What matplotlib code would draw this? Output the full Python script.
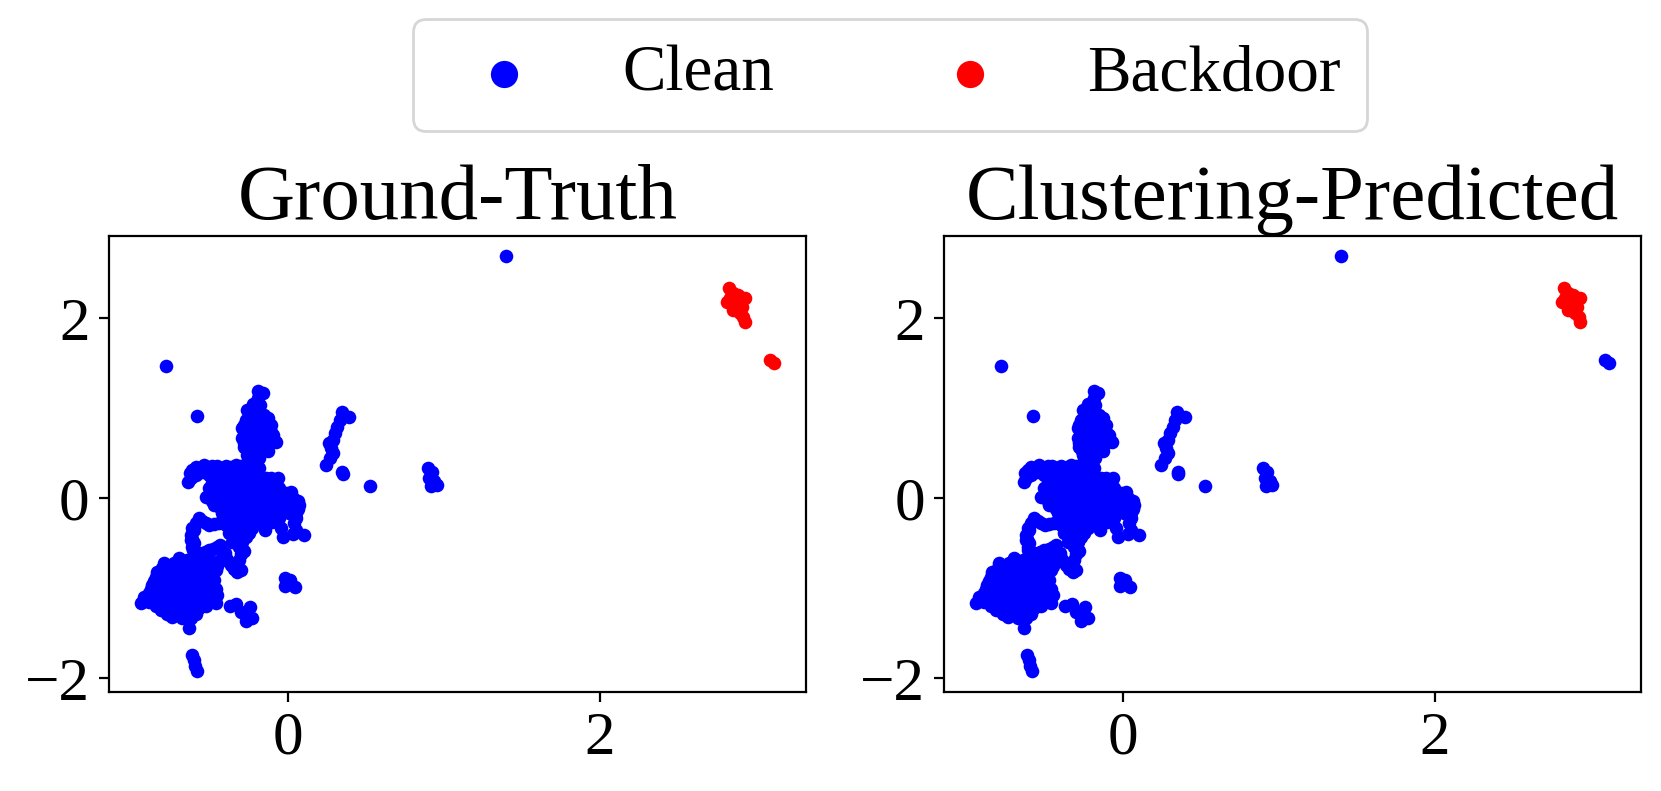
import numpy as np
import matplotlib.pyplot as plt

plt.rcParams['font.family'] = ['Liberation Serif', 'DejaVu Serif']

# isolated clean points
lone_x = [-0.781, -0.578, 1.401, 0.528, 0.351, 0.355, -0.145]
lone_y = [1.470, 0.915, 2.689, 0.141, 0.296, 0.275, -0.348]

# thin streak right of the main cloud
streak_x = [0.349, 0.396, 0.336, 0.319, 0.302, 0.289, 0.263, 0.278, 0.289, 0.272, 0.246]
streak_y = [0.956, 0.904, 0.870, 0.796, 0.722, 0.648, 0.611, 0.556, 0.507, 0.444, 0.370]

# small groups
grp_c_x = [0.899, 0.926, 0.909, 0.941, 0.956, 0.920]
grp_c_y = [0.341, 0.296, 0.222, 0.193, 0.148, 0.141]
grp_d_x = [-0.017, 0.015, 0.045, -0.015]
grp_d_y = [-0.881, -0.911, -0.985, -0.970]
grp_e_x = [-0.370, -0.327, -0.300, -0.267, -0.242, -0.225, -0.267]
grp_e_y = [-1.193, -1.178, -1.259, -1.296, -1.207, -1.326, -1.363]
grp_f_x = [-0.614, -0.601, -0.593, -0.582]
grp_f_y = [-1.741, -1.800, -1.859, -1.919]

# upper arm of the main cloud
arm_x = [-0.186, -0.160, -0.186, -0.178, -0.257, -0.214, -0.150, -0.128,
         -0.267, -0.203, -0.139, -0.107, -0.289, -0.235, -0.171, -0.107,
         -0.289, -0.225, -0.160, -0.096, -0.071, -0.278, -0.214, -0.150,
         -0.128, -0.257, -0.193, -0.257, -0.246,
         -0.200, -0.240, -0.150, -0.270, -0.200, -0.130, -0.250, -0.180,
         -0.220, -0.240, -0.170, -0.280, -0.120, -0.260, -0.200, -0.090,
         -0.280, -0.220, -0.170, -0.110, -0.260, -0.200, -0.230, -0.260, -0.210]
arm_y = [1.193, 1.167, 1.111, 1.037, 0.981, 0.963, 0.926, 0.889,
         0.870, 0.852, 0.833, 0.815, 0.778, 0.759, 0.759, 0.741,
         0.667, 0.667, 0.667, 0.667, 0.630, 0.574, 0.574, 0.574,
         0.526, 0.481, 0.519, 0.389, 0.315,
         0.920, 0.810, 0.700, 0.720, 0.710, 0.610, 0.620, 0.450,
         1.050, 0.900, 0.880, 0.820, 0.780, 0.720, 0.760, 0.700,
         0.620, 0.620, 0.620, 0.620, 0.530, 0.550, 0.440, 0.350, 0.380]

# left bar of the main cloud
bar_x = [-0.610, -0.560, -0.510, -0.455, -0.360, -0.620, -0.550, -0.460, -0.400, -0.340, -0.300]
bar_y = [0.320, 0.330, 0.340, 0.360, 0.350, 0.230, 0.290, 0.300, 0.300, 0.300, 0.360]

# central part of the cloud
core_x = [-0.635, -0.627, -0.588, -0.535, -0.481, -0.428, -0.396, -0.332, -0.588, -0.503,
          -0.439, -0.353, -0.267, -0.182, -0.107, -0.182,
          -0.503, -0.428, -0.353, -0.267, -0.182, -0.096, -0.053,
          -0.524, -0.449, -0.374, -0.289, -0.203, -0.118, -0.032, 0.021,
          -0.471, -0.396, -0.310, -0.225, -0.139, -0.053, 0.032, 0.075,
          -0.417, -0.342, -0.267, -0.182, -0.118, -0.043, 0.053,
          -0.385, -0.310, -0.235, -0.139, -0.053, 0.043,
          -0.353, -0.289, -0.225, -0.043, 0.053,
          -0.332, -0.267, -0.032, 0.032, 0.107,
          -0.310, -0.278]
core_y = [0.185, 0.278, 0.352, 0.370, 0.363, 0.341, 0.363, 0.370, 0.259, 0.259,
          0.222, 0.222, 0.222, 0.222, 0.222, 0.341,
          0.111, 0.111, 0.111, 0.111, 0.111, 0.111, 0.111,
          0.019, 0.019, 0.019, 0.019, 0.019, 0.019, 0.056, 0.074,
          -0.074, -0.074, -0.074, -0.074, -0.074, -0.074, 0.000, -0.074,
          -0.167, -0.167, -0.167, -0.167, -0.185, -0.148, -0.167,
          -0.259, -0.259, -0.259, -0.241, -0.222, -0.278,
          -0.352, -0.352, -0.333, -0.333, -0.352,
          -0.444, -0.426, -0.426, -0.400, -0.407,
          -0.537, -0.585]

# in-between rows of the central part
core2_x = [-0.481, -0.396, -0.310, -0.225, -0.139, -0.085,
           -0.481, -0.396, -0.310, -0.225, -0.139, -0.075, -0.010,
           -0.481, -0.417, -0.353, -0.267, -0.182, -0.096, -0.010, 0.064,
           -0.428, -0.353, -0.267, -0.182, -0.096, 0.000, 0.064,
           -0.385, -0.310, -0.225, -0.150, -0.075, 0.053,
           -0.396, -0.310, -0.246,
           -0.374, -0.300, -0.246,
           -0.353, -0.289]
core2_y = [0.167, 0.167, 0.167, 0.167, 0.167, 0.167,
           0.065, 0.065, 0.065, 0.065, 0.065, 0.065, 0.065,
           -0.028, -0.028, -0.028, -0.028, -0.028, -0.028, -0.028, -0.028,
           -0.120, -0.120, -0.120, -0.120, -0.120, -0.120, -0.120,
           -0.213, -0.213, -0.213, -0.213, -0.213, -0.213,
           -0.300, -0.300, -0.300,
           -0.390, -0.390, -0.390,
           -0.490, -0.490]

# extra fill inside the central part
core3_x = [-0.481, -0.396, -0.310, -0.225, -0.139, -0.064,
           -0.460, -0.390, -0.310, -0.225, -0.139,
           -0.490, -0.410, -0.330, -0.246, -0.160, -0.075,
           -0.430, -0.350, -0.267, -0.182, -0.096, -0.010,
           -0.380, -0.300, -0.225, -0.150, -0.080, 0.010,
           -0.350, -0.270, -0.190, -0.100,
           -0.320, -0.260]
core3_y = [0.222, 0.222, 0.222, 0.222, 0.222, 0.222,
           0.111, 0.111, 0.111, 0.111, 0.111,
           0.019, 0.019, 0.019, 0.019, 0.019, 0.019,
           -0.074, -0.074, -0.074, -0.074, -0.074, -0.074,
           -0.167, -0.167, -0.167, -0.167, -0.167, -0.167,
           -0.259, -0.259, -0.259, -0.259,
           -0.352, -0.352]

# links between the center and the lower-left blob
link_x = [-0.567, -0.524, -0.471, -0.599, -0.620, -0.610, -0.567, -0.503, -0.449,
          -0.428, -0.396, -0.364, -0.321, -0.289, -0.310,
          -0.588, -0.620, -0.599, -0.588, -0.535, -0.500, -0.450, -0.400,
          -0.545, -0.610, -0.615, -0.605, -0.580, -0.530, -0.475, -0.430,
          -0.410, -0.380, -0.345, -0.300, -0.300, -0.500, -0.440,
          -0.500, -0.460, -0.440, -0.530]
link_y = [-0.222, -0.278, -0.289, -0.352, -0.463, -0.537, -0.611, -0.574, -0.537,
          -0.574, -0.667, -0.741, -0.815, -0.574, -0.685,
          -0.278, -0.407, -0.500, -0.600, -0.630, -0.680, -0.750, -0.610,
          -0.250, -0.330, -0.450, -0.570, -0.630, -0.600, -0.560, -0.520,
          -0.630, -0.700, -0.780, -0.800, -0.620, -0.300, -0.270,
          -0.750, -0.800, -0.700, -0.700]

# lower-left blob
blob_x = [-0.695, -0.642,
          -0.802, -0.738, -0.674, -0.599, -0.535,
          -0.845, -0.781, -0.717, -0.653, -0.588, -0.524, -0.471,
          -0.867, -0.802, -0.738, -0.674, -0.610, -0.546, -0.481,
          -0.888, -0.824, -0.760, -0.695, -0.631, -0.567, -0.503, -0.449,
          -0.941, -0.888, -0.813, -0.749, -0.685, -0.620, -0.556, -0.460,
          -0.813, -0.749, -0.685, -0.620, -0.567,
          -0.738, -0.674, -0.620, -0.631]
blob_y = [-0.667, -0.685,
          -0.778, -0.778, -0.778, -0.778, -0.796,
          -0.870, -0.870, -0.870, -0.870, -0.870, -0.870, -0.907,
          -0.963, -0.963, -0.963, -0.963, -0.963, -0.963, -0.981,
          -1.056, -1.056, -1.056, -1.056, -1.056, -1.056, -1.056, -1.074,
          -1.167, -1.148, -1.148, -1.148, -1.148, -1.148, -1.148, -1.167,
          -1.241, -1.241, -1.252, -1.241, -1.222,
          -1.315, -1.333, -1.333, -1.444]

# in-between rows of the lower-left blob
blob2_x = [-0.792, -0.727, -0.663, -0.599,
           -0.835, -0.770, -0.706, -0.642, -0.578, -0.513,
           -0.856, -0.792, -0.727, -0.663, -0.599, -0.535, -0.492,
           -0.877, -0.813, -0.749, -0.685, -0.620, -0.556, -0.492, -0.460,
           -0.920, -0.856, -0.792, -0.727, -0.663, -0.599, -0.535, -0.481,
           -0.845, -0.781, -0.717, -0.653, -0.588, -0.524,
           -0.770, -0.706, -0.642, -0.588]
blob2_y = [-0.722, -0.722, -0.722, -0.722,
           -0.824, -0.824, -0.824, -0.824, -0.824, -0.824,
           -0.917, -0.917, -0.917, -0.917, -0.917, -0.917, -0.917,
           -1.010, -1.010, -1.010, -1.010, -1.010, -1.010, -1.010, -1.010,
           -1.100, -1.100, -1.100, -1.100, -1.100, -1.100, -1.100, -1.100,
           -1.195, -1.195, -1.195, -1.195, -1.195, -1.195,
           -1.287, -1.287, -1.287, -1.287]

# backdoor cluster (both panels) and the far pair (backdoor truth, predicted clean)
bd_x = [2.825, 2.856, 2.888, 2.931, 2.835, 2.814, 2.846, 2.878, 2.910, 2.856, 2.899, 2.921, 2.931]
bd_y = [2.341, 2.278, 2.259, 2.230, 2.222, 2.185, 2.167, 2.148, 2.130, 2.093, 2.056, 2.019, 1.956]
pair_x = [3.092, 3.118]
pair_y = [1.537, 1.500]

clean_x = np.concatenate([lone_x, streak_x, grp_c_x, grp_d_x, grp_e_x, grp_f_x, arm_x,
                          bar_x, core_x, core2_x, core3_x, link_x, blob_x, blob2_x])
clean_y = np.concatenate([lone_y, streak_y, grp_c_y, grp_d_y, grp_e_y, grp_f_y, arm_y,
                          bar_y, core_y, core2_y, core3_y, link_y, blob_y, blob2_y])

fig = plt.figure(figsize=(8.305, 3.955), dpi=200)
ax1 = fig.add_axes([0.0656, 0.1255, 0.4196, 0.5765])
ax2 = fig.add_axes([0.5685, 0.1255, 0.4194, 0.5765])

dot = 24

# ground truth
ax1.scatter(clean_x, clean_y, c='blue', s=dot, linewidths=0, label='Clean')
ax1.scatter(np.r_[bd_x, pair_x], np.r_[bd_y, pair_y], c='red', s=dot, linewidths=0,
            label='Backdoor')
ax1.set_title('Ground-Truth', fontsize=28.4)

# clustering prediction
ax2.scatter(np.r_[clean_x, pair_x], np.r_[clean_y, pair_y], c='blue', s=dot, linewidths=0)
ax2.scatter(bd_x, bd_y, c='red', s=dot, linewidths=0)
ax2.set_title('Clustering-Predicted', fontsize=28.4)

for ax in (ax1, ax2):
    ax.tick_params(labelsize=22)
    ax.set_xticks([0, 2])
    ax.set_yticks([-2, 0, 2])

handles, labels = ax1.get_legend_handles_labels()
fig.legend(handles, labels, loc='upper center', bbox_to_anchor=(0.5358, 0.976),
           ncol=2, fontsize=23.5, markerscale=2, borderaxespad=0)

fig.savefig('out.png', dpi=200)
